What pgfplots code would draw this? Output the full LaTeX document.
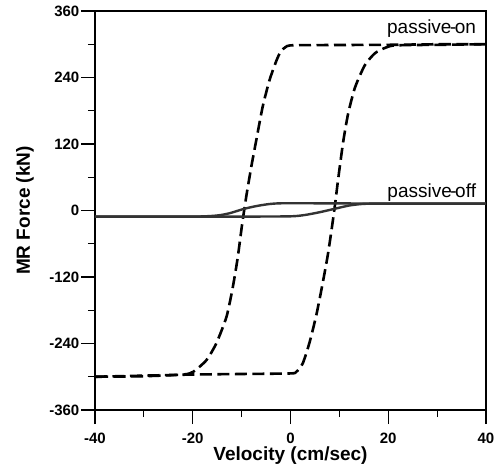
\documentclass[border=0pt]{standalone}
\usepackage{pgfplots}
\pgfplotsset{compat=1.18}
\usepackage{fontspec}
\setmainfont{Liberation Sans}
\begin{document}
\begin{tikzpicture}
\begin{axis}[
  at={(0,0)}, anchor=south west,
  scale only axis, width=391pt, height=399pt,
  xmin=-40, xmax=40, ymin=-360, ymax=360,
  xtick={-40,-20,0,20,40}, minor xtick={-30,-10,10,30},
  xticklabels={-40,-20,0,20,40},
  ytick={-360,-240,-120,0,120,240,360}, minor ytick={-300,-180,-60,60,180,300},
  yticklabels={-360,-240,-120,0,120,240,360},
  tick align=outside, tick pos=left,
  major tick length=14pt, minor tick length=7pt,
  axis line style={line width=1.3pt},
  every tick/.style={black, line width=1.2pt},
  xticklabel style={font=\fontsize{15}{16}\selectfont\bfseries, inner sep=1pt, yshift=-7.5pt},
  yticklabel style={font=\fontsize{15}{16}\selectfont\bfseries, inner sep=1.5pt},
  xlabel={Velocity (cm/sec)}, ylabel={MR Force (kN)},
  label style={font=\fontsize{19}{22}\selectfont\bfseries},
  xlabel style={at={(axis description cs:0.5,-0.1140)}, anchor=center, inner sep=0pt},
  ylabel style={at={(axis description cs:-0.179,0.5)}, anchor=center},
  clip=false,
]
% passive-on (dashed hysteresis loop)
\addplot[black, line width=2.6pt, dash pattern=on 12pt off 5.5pt, smooth, tension=0.4] coordinates {
(-40,-300) (-30,-298) (-20,-296) (-10,-295) (0,-294) (1.2,-291) (2.5,-276) (3.9,-238)
(5.3,-188) (6.5,-135) (7.6,-82) (8.4,-35) (9.1,10) (9.8,60) (10.8,125) (11.8,175)
(13.2,222) (15.2,262) (17.3,284) (19.5,294) (21.5,298) (30,299) (40,300)
};
\addplot[black, line width=2.6pt, dash pattern=on 12pt off 5.5pt, smooth, tension=0.4] coordinates {
(40,300) (30,300) (20,299) (5,298.5) (0,298) (-1,295) (-2,287) (-2.9,270) (-4.3,235)
(-5.7,187) (-7,127) (-8,80) (-9,28) (-9.9,-25) (-10.8,-85) (-11.8,-138) (-13.1,-192)
(-15.2,-240) (-17.2,-270) (-19.9,-291) (-22,-296) (-30,-299) (-40,-300)
};
% passive-off
\addplot[black!80, line width=2.4pt, smooth, tension=0.4] coordinates {
(-40,-11) (-20,-11) (-10,-11) (0,-10.5) (3,-8) (6,-3) (9,3) (12,9) (15,12) (20,12.5) (40,12.5)
};
\addplot[black!80, line width=2.4pt, smooth, tension=0.4] coordinates {
(40,12.5) (20,12.5) (5,13) (-2,13) (-4.5,11.5) (-7,8) (-9.5,3) (-12.5,-5) (-15,-9) (-20,-11) (-40,-11)
};
\node[anchor=east, font=\fontsize{19}{22}\selectfont, inner sep=0pt] at (axis cs:38.0,329) {passive\kern-1.5pt-\kern-1.5pt on};
\node[anchor=east, font=\fontsize{19}{22}\selectfont, inner sep=0pt] at (axis cs:38.0,33) {passive\kern-1.5pt-\kern-1.5pt off};
\end{axis}
\pgfresetboundingbox
\path[use as bounding box] (-95pt,-62pt) rectangle (407pt,410pt);
\end{tikzpicture}
\end{document}
